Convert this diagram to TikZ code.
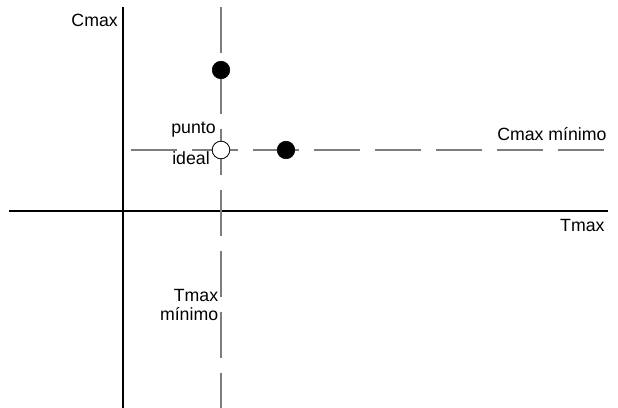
\documentclass[tikz,border=0pt]{standalone}
\usepackage{fontspec}
\setmainfont{Liberation Sans}
\usetikzlibrary{positioning}
\definecolor{guidegray}{RGB}{125,125,125}

\begin{document}
\begin{tikzpicture}[
    axis/.style={black, line width=.8pt},
    guide/.style={guidegray, line width=.9pt, dash pattern=on 1.15cm off .375cm},
    filled/.style={circle, fill=black, draw=black, minimum size=.44cm, inner sep=0pt},
    hollow/.style={circle, fill=white, draw=black, line width=.6pt, minimum size=.44cm, inner sep=0pt},
    lbl/.style={inner sep=0pt, font=\fontsize{12.6}{13.6}\selectfont}]
  \useasboundingbox (0,0) rectangle (15.45,10.2);
  % axes
  \coordinate (ytop) at (3.075,10.025);
  \coordinate (ybot) at (3.075,0);
  \coordinate (xleft) at (0.225,4.925);
  \coordinate (xright) at (15.2,4.925);
  \draw[axis] (ytop) -- (ybot);
  \draw[axis] (xleft) -- (xright);
  % minimum lines
  \coordinate (vtop) at (5.525,10.025);
  \coordinate (vbot) at (5.525,0);
  \coordinate (hleft) at (3.275,6.45);
  \coordinate (hright) at (15.2,6.45);
  \draw[guide] (vtop) -- (vbot);
  \draw[guide] (hleft) -- (hright);
  % points
  \node[filled] (p1) at (5.525,8.45) {};
  \node[filled] (p2) at (7.15,6.45) {};
  \node[hollow] (ideal) at (5.525,6.45) {};
  % labels
  \node[lbl, anchor=east] (cmax) at (2.95,9.7) {Cmax};
  \node[lbl, anchor=east] (tmax) at (15.12,4.56) {Tmax};
  \node[lbl, anchor=east] (cmin) at (15.17,6.86) {Cmax mínimo};
  \node[lbl, anchor=east] (punto) at (5.4,6.95) {punto};
  \node[lbl, anchor=west] (idl) at (4.3,6.25) {ideal};
  \node[lbl, anchor=east, align=right] (tmin) at (5.46,2.57) {Tmax\\mínimo};
\end{tikzpicture}
\end{document}
